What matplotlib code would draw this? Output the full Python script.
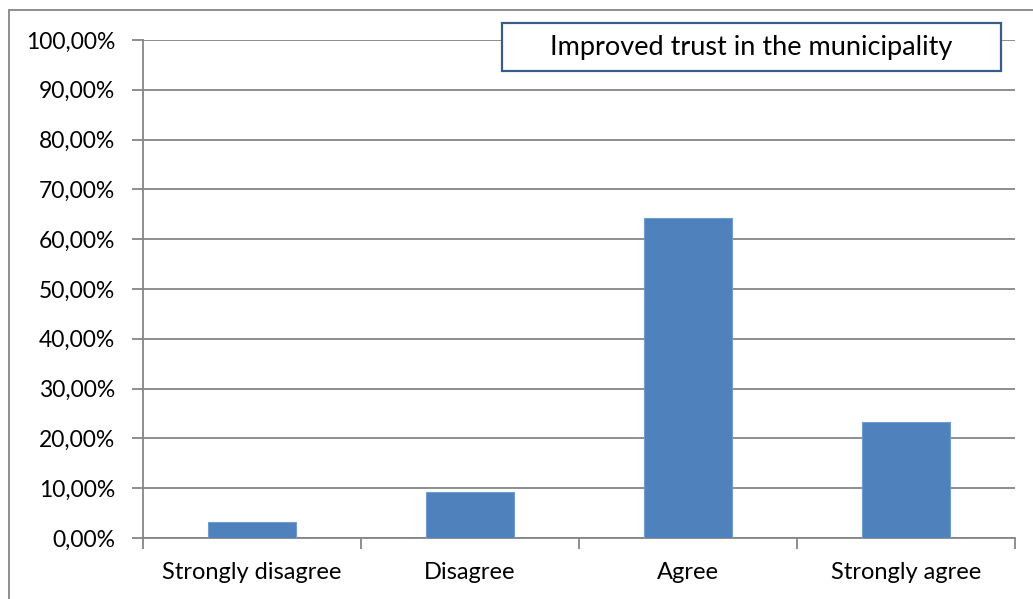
import matplotlib.pyplot as plt
from matplotlib.patches import Rectangle
from matplotlib.ticker import FuncFormatter, FixedLocator
import numpy as np

plt.rcParams['font.family'] = ['Lato', 'DejaVu Sans']

# data
categories = ["Strongly disagree", "Disagree", "Agree", "Strongly agree"]
values = [3.3, 9.2, 64.2, 23.3]
title = "Improved trust in the municipality"

W, H = 1033, 599
fig = plt.figure(figsize=(W / 100, H / 100), dpi=100)
ax = fig.add_axes([143 / W, 1 - 538 / H, (1015 - 143) / W, (538 - 40) / H])

x = np.arange(len(categories))
ax.bar(x, values, width=0.4, color='#4f81bd', edgecolor='#6f9bd0', linewidth=0.8, zorder=3)

ax.set_xlim(-0.5, len(categories) - 0.5)
ax.set_ylim(0, 100)
ax.set_yticks(np.arange(0, 101, 10))
ax.yaxis.set_major_formatter(FuncFormatter(lambda v, p: f"{v:.2f}%".replace('.', ',')))
ax.yaxis.grid(True, color='#868686', linewidth=1.3, zorder=0)

ax.set_xticks(x)
ax.set_xticklabels(categories)
ax.xaxis.set_minor_locator(FixedLocator(np.arange(-0.5, len(categories), 1.0)))
ax.tick_params(axis='x', which='major', length=0, pad=17, labelsize=17)
ax.tick_params(axis='x', which='minor', length=8, width=1.3, color='#868686')
ax.tick_params(axis='y', length=8, width=1.3, color='#868686', pad=12, labelsize=16.5)

for s in ['top', 'right']:
    ax.spines[s].set_visible(False)
for s in ['left', 'bottom']:
    ax.spines[s].set_color('#868686')
    ax.spines[s].set_linewidth(1.3)

# title box
bx0, bx1, by0, by1 = 502, 1001, 23, 71
fig.patches.append(Rectangle((bx0 / W, 1 - by1 / H), (bx1 - bx0) / W, (by1 - by0) / H,
                             transform=fig.transFigure, facecolor='white',
                             edgecolor='#385d8a', linewidth=1.6, zorder=5))
fig.text((bx0 + bx1) / 2 / W, 1 - (by0 + by1) / 2 / H, title, ha='center', va='center',
         fontsize=19.5, zorder=6)

# outer chart border (runs off the image)
fig.patches.append(Rectangle((8.5 / W, -1), 2, 2 - 9.5 / H, transform=fig.transFigure,
                             facecolor='none', edgecolor='#868686', linewidth=1.3, zorder=4))

fig.savefig('out.png', dpi=100)
